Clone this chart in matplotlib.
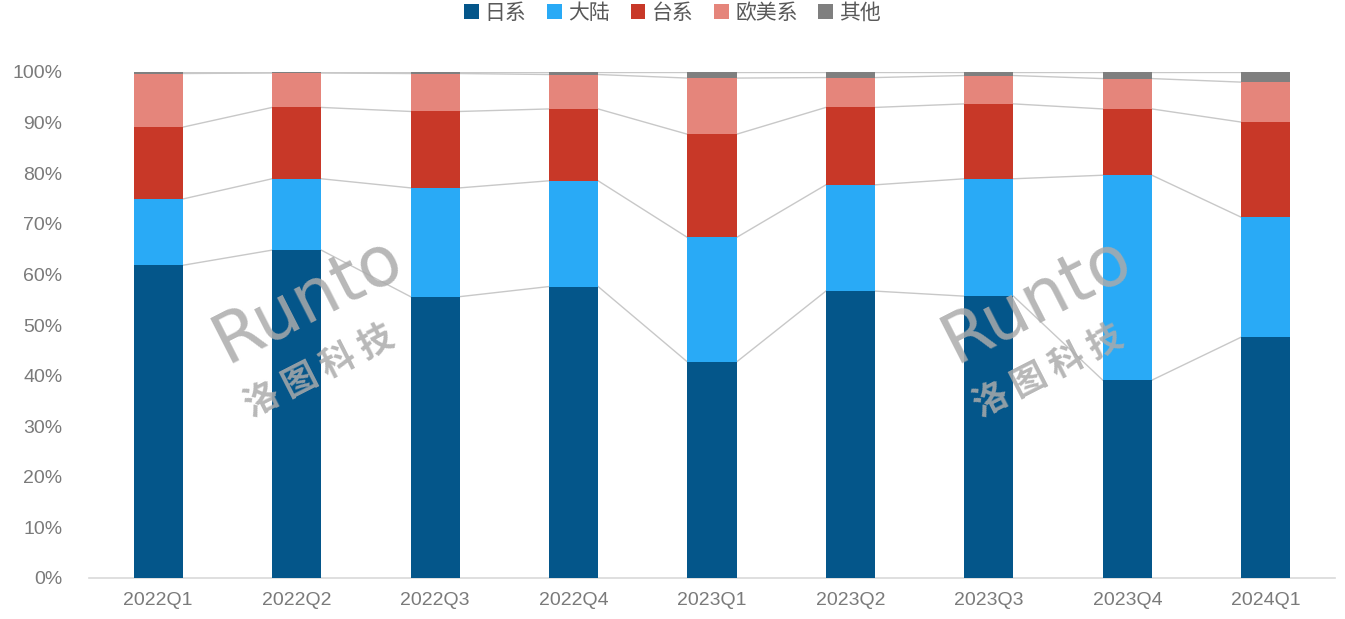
import matplotlib
matplotlib.use("Agg")
import matplotlib.pyplot as plt
import numpy as np
from matplotlib import font_manager as fm

categories = ["2022Q1", "2022Q2", "2022Q3", "2022Q4", "2023Q1", "2023Q2", "2023Q3", "2023Q4", "2024Q1"]
series_names = ["日系", "大陆", "台系", "欧美系", "其他"]
japan  = [61.8, 64.8, 55.6, 57.6, 42.7, 56.7, 55.7, 39.1, 47.6]
china  = [13.1, 14.1, 21.5, 20.9, 24.6, 21.0, 23.2, 40.5, 23.7]
taiwan = [14.2, 14.1, 15.1, 14.2, 20.4, 15.3, 14.8, 13.1, 18.8]
euus   = [10.6,  6.8,  7.5,  6.8, 11.1,  5.9,  5.6,  6.0,  7.9]
other  = [0.3,  0.2,  0.3,  0.5,  1.2,  1.1,  0.7,  1.3,  2.0]
yticks = [0, 10, 20, 30, 40, 50, 60, 70, 80, 90, 100]
ytick_labels = [f"{v}%" for v in yticks]

colors = ["#04568A", "#29AAF6", "#C83828", "#E5857B", "#7F7F7F"]

available = {f.name for f in fm.fontManager.ttflist}
num_font = "Liberation Sans Narrow" if "Liberation Sans Narrow" in available else "Liberation Sans"
cjk = ["Noto Sans CJK SC", "DejaVu Sans"]

fig = plt.figure(figsize=(13.45, 6.19), dpi=100)
ax = fig.add_axes([89/1345, (619-578)/619, (1335-89)/1345, (578-72)/619])

data = np.array([japan, china, taiwan, euus, other])
x = np.arange(len(categories))
width = 0.355
bottom = np.zeros(len(categories))
cums = []
for vals, name, c in zip(data, series_names, colors):
    ax.bar(x, vals, width, bottom=bottom, color=c, label=name, zorder=3)
    bottom = bottom + vals
    cums.append(bottom.copy())

# series lines
for cum in cums:
    for i in range(len(categories) - 1):
        ax.plot([x[i] + width/2, x[i+1] - width/2], [cum[i], cum[i+1]],
                color="#C8C8C8", lw=1.0, zorder=2)

ax.set_xlim(-0.5, len(categories) - 0.5)
ax.set_ylim(0, 100)
ax.set_yticks(yticks)
ax.set_yticklabels(ytick_labels, fontfamily=num_font, fontsize=14, color="#7A7A7A")
ax.set_xticks(x)
ax.set_xticklabels(categories, fontfamily=num_font, fontsize=14, color="#7A7A7A")
ax.tick_params(axis="both", length=0)
ax.tick_params(axis="x", pad=10)
ax.tick_params(axis="y", pad=19)
for s in ["left", "right", "top"]:
    ax.spines[s].set_visible(False)
ax.spines["bottom"].set_color("#D9D9D9")
ax.spines["bottom"].set_linewidth(1.2)

# watermarks
for wx in [0.175, 0.76]:
    ax.text(wx, 0.55, "Runto", transform=ax.transAxes, fontsize=50, color="#ABABAB",
            alpha=0.85, rotation=27, ha="center", va="center", family="DejaVu Sans", zorder=4)
    ax.text(wx + 0.01, 0.41, "洛 图 科 技", transform=ax.transAxes, fontsize=25, color="#ABABAB",
            alpha=0.85, rotation=27, ha="center", va="center", family=cjk, fontweight="bold", zorder=4)

leg = fig.legend(loc="center", bbox_to_anchor=(0.5, 1 - 13/619), ncol=5, frameon=False,
                 prop={"family": cjk, "size": 15}, handlelength=0.7, handleheight=0.7,
                 handletextpad=0.3, columnspacing=1.0)
for t in leg.get_texts():
    t.set_color("#595959")

fig.savefig("out.png", dpi=100)
